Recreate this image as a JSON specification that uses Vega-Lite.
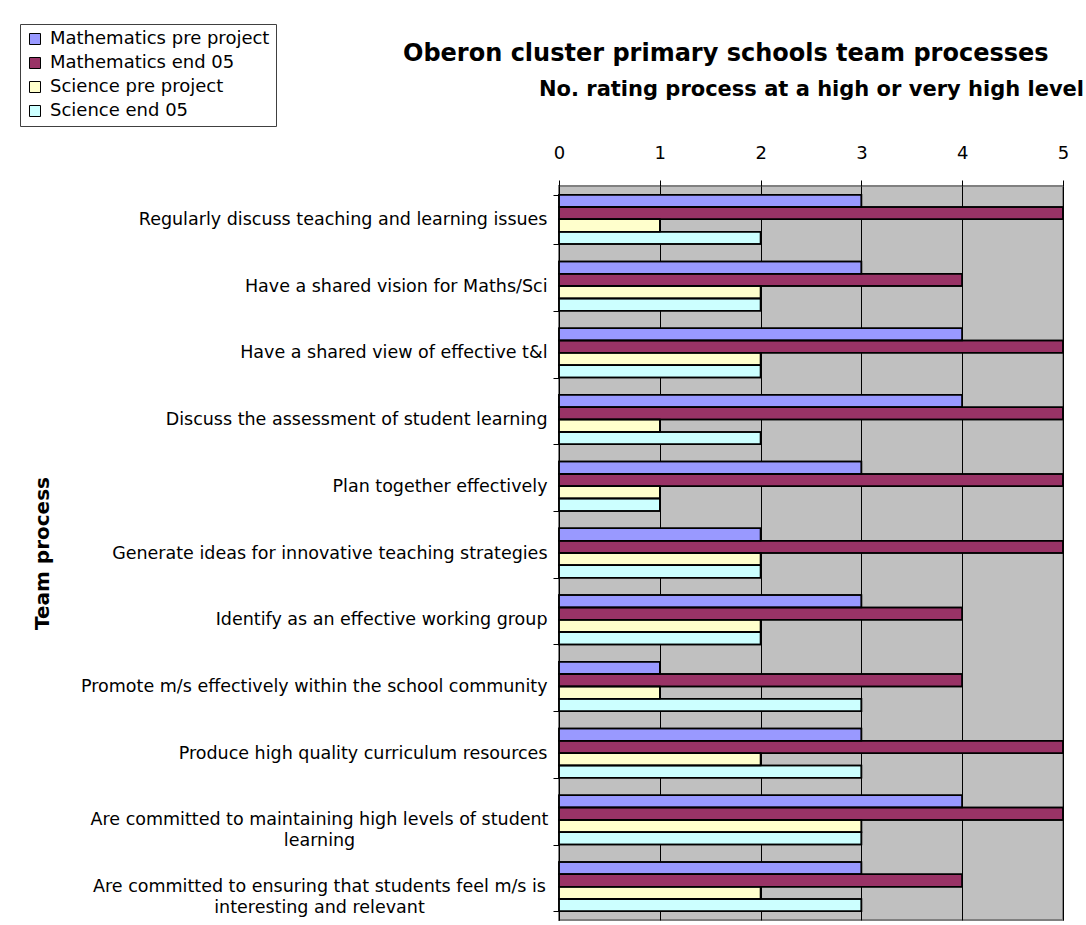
{
  "$schema": "https://vega.github.io/schema/vega-lite/v6.json",
  "autosize": {"type": "none"},
  "padding": {"left": 559, "top": 186, "right": 23, "bottom": 5},
  "width": 504,
  "height": 734,
  "background": "white",
  "title": {
    "text": "Oberon cluster primary schools team processes",
    "anchor": "start",
    "frame": "group",
    "dx": -156,
    "dy": 62,
    "font": "DejaVu Sans",
    "fontSize": 24,
    "fontWeight": "bold",
    "color": "black",
    "offset": 20
  },
  "data": {
    "values": [
      {"process": "Regularly discuss teaching and learning issues", "Mathematics pre project": 3, "Mathematics end 05": 5, "Science pre project": 1, "Science end 05": 2},
      {"process": "Have a shared vision for Maths/Sci", "Mathematics pre project": 3, "Mathematics end 05": 4, "Science pre project": 2, "Science end 05": 2},
      {"process": "Have a shared view of effective t&l", "Mathematics pre project": 4, "Mathematics end 05": 5, "Science pre project": 2, "Science end 05": 2},
      {"process": "Discuss the assessment of student learning", "Mathematics pre project": 4, "Mathematics end 05": 5, "Science pre project": 1, "Science end 05": 2},
      {"process": "Plan together effectively", "Mathematics pre project": 3, "Mathematics end 05": 5, "Science pre project": 1, "Science end 05": 1},
      {"process": "Generate ideas for innovative teaching strategies", "Mathematics pre project": 2, "Mathematics end 05": 5, "Science pre project": 2, "Science end 05": 2},
      {"process": "Identify as an effective working group", "Mathematics pre project": 3, "Mathematics end 05": 4, "Science pre project": 2, "Science end 05": 2},
      {"process": "Promote m/s effectively within the school community", "Mathematics pre project": 1, "Mathematics end 05": 4, "Science pre project": 1, "Science end 05": 3},
      {"process": "Produce high quality curriculum resources", "Mathematics pre project": 3, "Mathematics end 05": 5, "Science pre project": 2, "Science end 05": 3},
      {"process": "Are committed to maintaining high levels of student learning", "Mathematics pre project": 4, "Mathematics end 05": 5, "Science pre project": 3, "Science end 05": 3},
      {"process": "Are committed to ensuring that students feel m/s is interesting and relevant", "Mathematics pre project": 3, "Mathematics end 05": 4, "Science pre project": 2, "Science end 05": 3}
    ]
  },
  "transform": [
    {"fold": ["Mathematics pre project", "Mathematics end 05", "Science pre project", "Science end 05"], "as": ["series", "value"]}
  ],
  "encoding": {
    "yOffset": {
      "field": "series",
      "type": "nominal",
      "sort": ["Mathematics pre project", "Mathematics end 05", "Science pre project", "Science end 05"],
      "scale": {"paddingInner": 0, "paddingOuter": 0}
    },
    "x": {
      "field": "value",
      "type": "quantitative",
      "scale": {"domain": [0, 5], "nice": false},
      "axis": {
        "orient": "top",
        "title": "No. rating process at a high or very high level",
        "titleFont": "DejaVu Sans",
        "titleFontSize": 21,
        "titleFontWeight": "bold",
        "titleColor": "black",
        "titlePadding": 45,
        "values": [0, 1, 2, 3, 4, 5],
        "format": "d",
        "labelFont": "DejaVu Sans",
        "labelFontSize": 18,
        "labelColor": "black",
        "labelPadding": 18,
        "labelFlush": false,
        "tickSize": 6,
        "tickColor": "black",
        "domain": false,
        "grid": true,
        "gridColor": "black",
        "gridOpacity": 1,
        "gridWidth": 1
      }
    }
  },
  "layer": [
    {
      "mark": {"type": "bar", "stroke": "black", "strokeWidth": 1.5},
      "encoding": {
        "y": {
          "field": "process",
          "type": "nominal",
          "sort": null,
          "scale": {"paddingInner": 0.26, "paddingOuter": 0.13},
          "axis": {
            "orient": "left",
            "title": "Team process",
            "titleFont": "DejaVu Sans",
            "titleFontSize": 20,
            "titleFontWeight": "bold",
            "titleColor": "black",
            "titleX": -517,
            "titleBaseline": "middle",
            "labelFont": "DejaVu Sans",
            "labelFontSize": 17.5,
            "labelColor": "black",
            "labelLimit": 0,
            "labelPadding": 6,
            "labelExpr": "indexof(datum.label, 'Are committed') == 0 ? '' : datum.label",
            "tickBand": "extent",
            "tickSize": 6,
            "tickColor": "black",
            "domainColor": "black",
            "grid": false
          }
        },
        "color": {
          "field": "series",
          "type": "nominal",
          "sort": ["Mathematics pre project", "Mathematics end 05", "Science pre project", "Science end 05"],
          "scale": {
            "domain": ["Mathematics pre project", "Mathematics end 05", "Science pre project", "Science end 05"],
            "range": ["#9999FF", "#993366", "#FFFFCC", "#CCFFFF"]
          },
          "legend": {
            "orient": "none",
            "legendX": -539,
            "legendY": -162,
            "title": null,
            "fillColor": "white",
            "strokeColor": "#404040",
            "padding": 6,
            "labelFont": "DejaVu Sans",
            "labelFontSize": 18,
            "labelColor": "black",
            "labelOffset": 6,
            "labelLimit": 0,
            "symbolType": "square",
            "symbolSize": 121,
            "symbolStrokeColor": "black",
            "symbolStrokeWidth": 1,
            "symbolOpacity": 1,
            "rowPadding": 6
          }
        }
      }
    },
    {
      "mark": {"type": "bar", "fillOpacity": 0, "stroke": "black", "strokeWidth": 1.5},
      "encoding": {
        "y": {
          "field": "process",
          "type": "nominal",
          "sort": null,
          "axis": {
            "orient": "left",
            "title": null,
            "labelFont": "DejaVu Sans",
            "labelFontSize": 17.5,
            "labelColor": "black",
            "labelLimit": 0,
            "labelLineHeight": 21,
            "labelAlign": "center",
            "labelPadding": 240,
            "labelExpr": "datum.label == 'Are committed to maintaining high levels of student learning' ? ['Are committed to maintaining high levels of student', 'learning'] : (datum.label == 'Are committed to ensuring that students feel m/s is interesting and relevant' ? ['Are committed to ensuring that students feel m/s is', 'interesting and relevant'] : '')",
            "ticks": false,
            "tickSize": 0,
            "domain": false,
            "grid": false
          }
        }
      }
    }
  ],
  "resolve": {"axis": {"y": "independent"}},
  "config": {
    "view": {"stroke": "#808080", "strokeWidth": 2, "fill": "#C0C0C0"},
    "font": "DejaVu Sans"
  }
}
